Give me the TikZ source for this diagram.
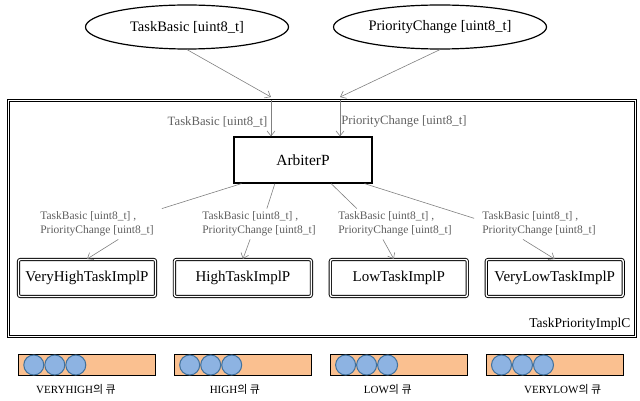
\documentclass[tikz,border=0pt]{standalone}
\usepackage{fontspec}
\setmainfont{Liberation Serif}
\newfontfamily\krfont{Noto Sans CJK KR}
\usetikzlibrary{shapes.geometric, arrows.meta, positioning}
\definecolor{queuefill}{HTML}{FAC090}
\definecolor{ballfill}{HTML}{8DB3E2}
\definecolor{ballline}{HTML}{41719C}
\definecolor{wiregray}{HTML}{808080}
\definecolor{labelgray}{HTML}{606060}
\tikzset{
  msgin/.style     = {ellipse, draw=black, line width=1.2pt, minimum height=44pt,
                      inner sep=0pt, font=\fontsize{14.5}{17}\selectfont},
  arbiter/.style   = {rectangle, draw=black, line width=1.2pt, minimum width=138pt,
                      minimum height=46pt, font=\fontsize{15.5}{18}\selectfont},
  taskbox/.style   = {rectangle, rounded corners=2pt, draw=black, double,
                      double distance=1.4pt, line width=0.9pt, minimum width=137pt,
                      minimum height=37pt, font=\fontsize{15}{18}\selectfont},
  component/.style = {rectangle, draw=black, double, double distance=1.4pt,
                      line width=0.9pt, minimum width=627pt, minimum height=236pt},
  msgtext/.style   = {font=\fontsize{11.5}{14}\selectfont, text=labelgray},
  msglabel/.style  = {msgtext, align=left, fill=white, inner xsep=8pt, inner ysep=3pt},
  link/.style      = {draw=wiregray, line width=0.6pt},
  wire/.style      = {link, -{Straight Barb[length=5pt, width=8pt]}},
  queue/.style     = {rectangle, draw=black, line width=1.4pt, fill=queuefill,
                      minimum width=137pt, minimum height=21pt},
  ball/.style      = {circle, draw=ballline, line width=1pt, fill=ballfill,
                      minimum size=20pt, inner sep=0pt},
  qlabel/.style    = {font=\fontsize{11}{13}\selectfont},
}

\begin{document}
\begin{tikzpicture}[x=1pt, y=-1pt, node distance=18pt]
    \useasboundingbox (0,0) rectangle (640,401);

    % ── Incoming messages ─────────────────────────────────────────
    \node[msgin, minimum width=203pt] (basic) at (187,27) {TaskBasic [uint8\_t]};
    \node[msgin, minimum width=213pt] (prio)  at (440,27) {PriorityChange [uint8\_t]};

    % ── Component and its parts ───────────────────────────────────
    \node[component] (impl) at (322,218.5) {};
    \node[font=\fontsize{13.5}{16}\selectfont,
          above left=3pt and 2pt of impl.south east] (implname) {TaskPriorityImplC};

    \node[arbiter] (arb) at (303,160) {ArbiterP};

    \node[taskbox] (vhigh) at (87,278) {VeryHighTaskImplP};
    \node[taskbox, right=of vhigh] (high) {HighTaskImplP};
    \node[taskbox, right=of high]  (low)  {LowTaskImplP};
    \node[taskbox, right=of low]   (vlow) {VeryLowTaskImplP};

    \node[msglabel] (lvh) at (97,224)  {TaskBasic [uint8\_t] ,\\PriorityChange [uint8\_t]};
    \node[msglabel] (lh)  at (259,224) {TaskBasic [uint8\_t] ,\\PriorityChange [uint8\_t]};
    \node[msglabel] (ll)  at (395,224) {TaskBasic [uint8\_t] ,\\PriorityChange [uint8\_t]};
    \node[msglabel] (lvl) at (539,224) {TaskBasic [uint8\_t] ,\\PriorityChange [uint8\_t]};

    % ── Arrows ────────────────────────────────────────────────────
    \coordinate (tipA) at ([xshift=-32pt]arb.north);
    \coordinate (tipB) at ([xshift=37pt]arb.north);
    \coordinate (inA)  at (impl.north -| tipA);
    \coordinate (inB)  at (impl.north -| tipB);

    \draw[wire] (basic.south) -- ([yshift=3pt]inA);
    \draw[wire] (prio.south)  -- ([yshift=3pt]inB);
    \draw[wire] (inA) -- node[msgtext, font=\fontsize{12.7}{15}\selectfont,
                              pos=0.6, left] (inlblA) {TaskBasic [uint8\_t]} (tipA);
    \draw[wire] (inB) -- node[msgtext, font=\fontsize{12.7}{15}\selectfont,
                              pos=0.6, right, inner sep=1pt] (inlblB) {PriorityChange [uint8\_t]} (tipB);

    \draw[link] (arb.201) -- (lvh.north east);
    \draw[wire] (lvh.-36) -- (vhigh.north);
    \draw[link] (arb.220) -- (lh.63);
    \draw[wire] (lh.240)  -- (high.north);
    \draw[link] (arb.320) -- (ll.158);
    \draw[wire] (ll.232)  -- ([xshift=-5pt]low.north);
    \draw[link] (arb.339) -- (lvl.175);
    \draw[wire] (lvl.224) -- (vlow.north);

    % ── Queues ────────────────────────────────────────────────────
    \coordinate (qrow) at (0,365);
    \foreach \t/\q/\name/\dx in {vhigh/qvh/VERYHIGH/-11, high/qh/HIGH/-8,
                                 low/ql/LOW/-11, vlow/qvl/VERYLOW/8} {
      \node[queue] (\q) at (\t |- qrow) {};
      \foreach \k in {0,1,2}
        \node[ball] (\q-\k) at ([xshift=16pt+\k*21pt]\q.west) {};
      \node[qlabel, below=5pt of \q, xshift=\dx pt] (\q-name) {\name{\krfont 의 큐}};
    }

\end{tikzpicture}
\end{document}
